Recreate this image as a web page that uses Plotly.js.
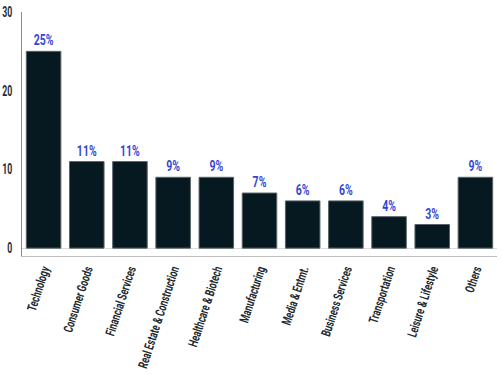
<!DOCTYPE html>
<html>
<head>
<meta charset="utf-8">
<script src="https://cdn.plot.ly/plotly-3.0.1.min.js"></script>
<style>html,body{margin:0;padding:0;background:#fff;}#chart{width:502px;height:375px;}</style>
</head>
<body>
<div id="chart"></div>
<script>
const categories = ["Technology","Consumer Goods","Financial Services","Real Estate & Construction","Healthcare & Biotech","Manufacturing","Media & Entmt.","Business Services","Transportation","Leisure & Lifestyle","Others"];
const values = [25, 11, 11, 9, 9, 7, 6, 6, 4, 3, 9];
const labels = values.map(v => v + "%");
const yTicks = [0, 10, 20, 30];

const FONT = "Roboto";

Plotly.newPlot("chart", [{
  type: "bar",
  x: categories,
  y: values,
  text: labels,
  textposition: "outside",
  cliponaxis: false,
  textfont: {family: FONT, size: 14, color: "#3546d6", weight: "bold"},
  marker: {color: "#061920", line: {color: "#5a6468", width: 1}},
  hoverinfo: "none"
}], {
  width: 502, height: 375,
  margin: {l: 22, r: 5, t: 12, b: 119},
  paper_bgcolor: "#ffffff",
  plot_bgcolor: "#ffffff",
  bargap: 0.2,
  showlegend: false,
  xaxis: {
    type: "category",
    tickangle: -72,
    tickfont: {family: FONT, size: 13, color: "#1c2a30", weight: "bold"},
    showline: true, linecolor: "#bdbdbd", linewidth: 1,
    ticks: "", showgrid: false
  },
  yaxis: {
    range: [-1, 30],
    tickvals: yTicks,
    ticktext: yTicks.map(String),
    tickfont: {family: FONT, size: 14, color: "#1c2a30", weight: "bold"},
    showline: true, linecolor: "#8a8a8a", linewidth: 1,
    showgrid: false,
    zeroline: true, zerolinecolor: "#dcdcdc", zerolinewidth: 1,
    ticks: "", ticklabelstandoff: 6
  },
  font: {family: FONT}
}, {staticPlot: true}).then(function (gd) {
  // emulate the condensed typeface of the reference
  const squeeze = function (sel, k) {
    gd.querySelectorAll(sel).forEach(function (t) {
      const w = t.getComputedTextLength();
      t.setAttribute("textLength", (w * k).toFixed(2));
      t.setAttribute("lengthAdjust", "spacingAndGlyphs");
    });
  };
  squeeze(".xtick text", 0.68);
  squeeze(".ytick text", 0.62);
  squeeze(".bartext", 0.75);
});
</script>
</body>
</html>
